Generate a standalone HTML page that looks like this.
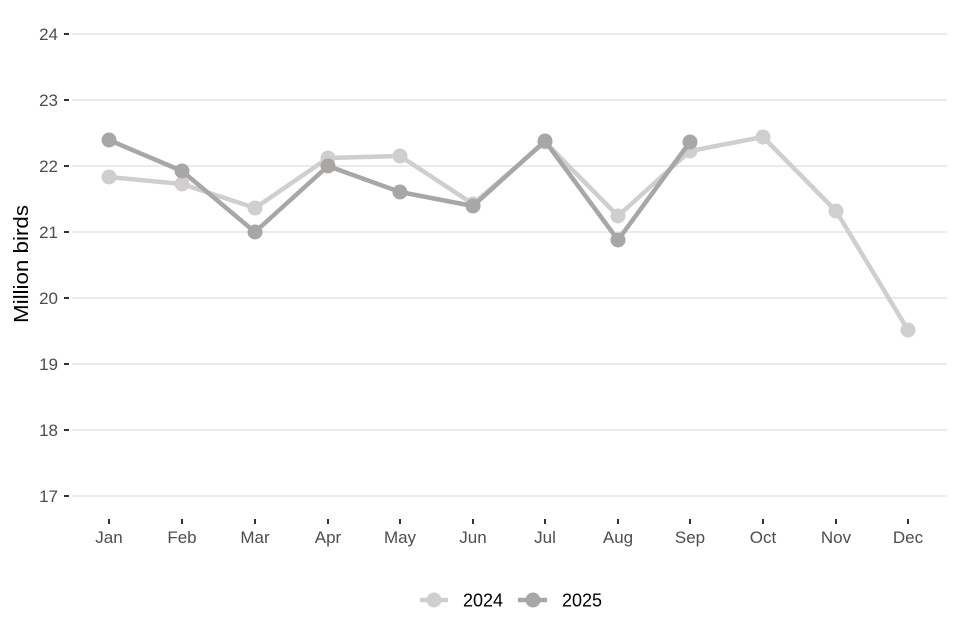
<!DOCTYPE html>
<html><head><meta charset="utf-8"><style>
html,body{margin:0;padding:0;background:#fff;}
svg{display:block;font-family:"Liberation Sans",Arial,sans-serif;}
</style></head><body>
<svg width="960" height="640" viewBox="0 0 960 640" xmlns="http://www.w3.org/2000/svg">
<rect width="960" height="640" fill="#fff"/>
<g stroke="#ebebeb" stroke-width="2">
<line x1="72" x2="947" y1="34" y2="34"/>
<line x1="72" x2="947" y1="100" y2="100"/>
<line x1="72" x2="947" y1="166" y2="166"/>
<line x1="72" x2="947" y1="232" y2="232"/>
<line x1="72" x2="947" y1="298" y2="298"/>
<line x1="72" x2="947" y1="364" y2="364"/>
<line x1="72" x2="947" y1="430" y2="430"/>
<line x1="72" x2="947" y1="496" y2="496"/>
</g>
<g stroke="#333" stroke-width="2">
<line x1="64" x2="69" y1="34" y2="34"/>
<line x1="64" x2="69" y1="100" y2="100"/>
<line x1="64" x2="69" y1="166" y2="166"/>
<line x1="64" x2="69" y1="232" y2="232"/>
<line x1="64" x2="69" y1="298" y2="298"/>
<line x1="64" x2="69" y1="364" y2="364"/>
<line x1="64" x2="69" y1="430" y2="430"/>
<line x1="64" x2="69" y1="496" y2="496"/>
</g>
<g fill="#4d4d4d" font-size="17" text-anchor="end">
<text x="58" y="40">24</text>
<text x="58" y="106">23</text>
<text x="58" y="172">22</text>
<text x="58" y="238">21</text>
<text x="58" y="304">20</text>
<text x="58" y="370">19</text>
<text x="58" y="436">18</text>
<text x="58" y="502">17</text>
</g>
<g stroke="#333" stroke-width="2">
<line x1="109" x2="109" y1="519" y2="524"/>
<line x1="182" x2="182" y1="519" y2="524"/>
<line x1="255" x2="255" y1="519" y2="524"/>
<line x1="328" x2="328" y1="519" y2="524"/>
<line x1="400" x2="400" y1="519" y2="524"/>
<line x1="473" x2="473" y1="519" y2="524"/>
<line x1="545" x2="545" y1="519" y2="524"/>
<line x1="618" x2="618" y1="519" y2="524"/>
<line x1="690" x2="690" y1="519" y2="524"/>
<line x1="763" x2="763" y1="519" y2="524"/>
<line x1="836" x2="836" y1="519" y2="524"/>
<line x1="908" x2="908" y1="519" y2="524"/>
</g>
<g fill="#4d4d4d" font-size="17" text-anchor="middle">
<text x="109" y="543">Jan</text>
<text x="182" y="543">Feb</text>
<text x="255" y="543">Mar</text>
<text x="328" y="543">Apr</text>
<text x="400" y="543">May</text>
<text x="473" y="543">Jun</text>
<text x="545" y="543">Jul</text>
<text x="618" y="543">Aug</text>
<text x="690" y="543">Sep</text>
<text x="763" y="543">Oct</text>
<text x="836" y="543">Nov</text>
<text x="908" y="543">Dec</text>
</g>
<text x="28" y="264" font-size="20" fill="#000" text-anchor="middle" textLength="118" lengthAdjust="spacingAndGlyphs" transform="rotate(-90 28 264)">Million birds</text>
<polyline fill="none" stroke="#d0cece" stroke-width="4.5" stroke-linejoin="round" points="109,177 182,184 255,208 328,158 400,156 473,204 545,142 618,216 690,151 763,137 836,211 908,330"/>
<g fill="#d0cece">
<circle cx="109" cy="177" r="7.5"/><circle cx="182" cy="184" r="7.5"/><circle cx="255" cy="208" r="7.5"/><circle cx="328" cy="158" r="7.5"/><circle cx="400" cy="156" r="7.5"/><circle cx="473" cy="204" r="7.5"/><circle cx="545" cy="142" r="7.5"/><circle cx="618" cy="216" r="7.5"/><circle cx="690" cy="151" r="7.5"/><circle cx="763" cy="137" r="7.5"/><circle cx="836" cy="211" r="7.5"/><circle cx="908" cy="330" r="7.5"/>
</g>
<polyline fill="none" stroke="#a9a6a6" stroke-width="4.5" stroke-linejoin="round" points="109,140 182,171 255,232 328,166 400,192 473,206 545,141 618,240 690,142"/>
<g fill="#a9a6a6">
<circle cx="109" cy="140" r="7.5"/><circle cx="182" cy="171" r="7.5"/><circle cx="255" cy="232" r="7.5"/><circle cx="328" cy="166" r="7.5"/><circle cx="400" cy="192" r="7.5"/><circle cx="473" cy="206" r="7.5"/><circle cx="545" cy="141" r="7.5"/><circle cx="618" cy="240" r="7.5"/><circle cx="690" cy="142" r="7.5"/>
</g>
<line x1="420" x2="448" y1="600" y2="600" stroke="#d0cece" stroke-width="4.5"/>
<circle cx="434" cy="600" r="7.5" fill="#d0cece"/>
<text x="463" y="606.5" font-size="18" fill="#000">2024</text>
<line x1="518" x2="547" y1="600" y2="600" stroke="#a9a6a6" stroke-width="4.5"/>
<circle cx="533" cy="600" r="7.5" fill="#a9a6a6"/>
<text x="562" y="606.5" font-size="18" fill="#000">2025</text>
</svg>
</body></html>
